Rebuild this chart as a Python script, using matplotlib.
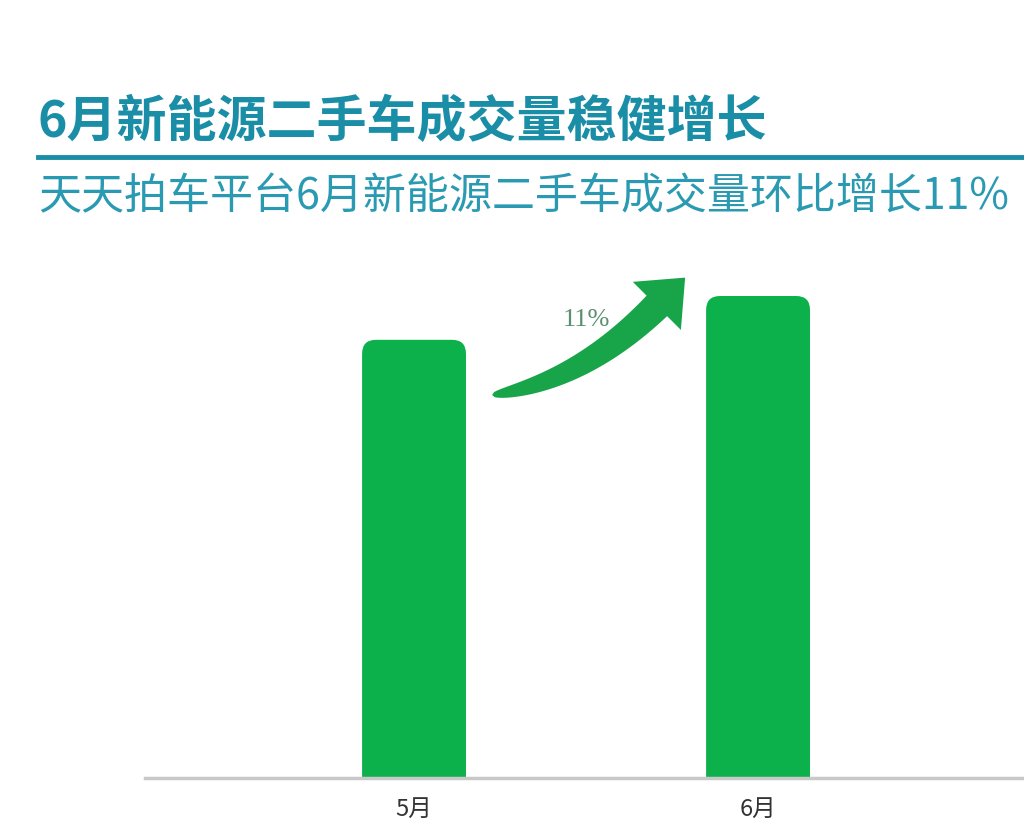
import numpy as np
import matplotlib
matplotlib.use('Agg')
import matplotlib.pyplot as plt
from matplotlib.patches import FancyBboxPatch, Polygon

plt.rcParams['font.family'] = ['Noto Sans CJK SC', 'DejaVu Sans']

# Data
months = ['5月', '6月']
volume = [100, 110]
growth_label = '11%'

title = '6月新能源二手车成交量稳健增长'
subtitle = '天天拍车平台6月新能源二手车成交量环比增长11%'

BAR_GREEN = '#0db14b'
ARROW_GREEN = '#18a54a'
TEAL = '#1a8ea6'

fig = plt.figure(figsize=(10.24, 8.31), dpi=100)
fig.patch.set_facecolor('white')

# Axes area: baseline at y=778px, left edge at 145px
ax = fig.add_axes([145 / 1024, 1 - 778 / 831, 1 - 145 / 1024, 528 / 831])

x = np.arange(len(months))
bars = ax.bar(x, volume, width=0.302, color=BAR_GREEN)

ax.set_xlim(-0.782, 1.773)
ax.set_ylim(0, 120.5)

# replace bars with rounded-top versions
rx = 0.04
ry = 3.2
for b in bars:
    bx, by = b.get_x(), b.get_y()
    bw, bh = b.get_width(), b.get_height()
    b.set_visible(False)
    p = FancyBboxPatch((bx, by - 2 * ry), bw, bh + 2 * ry,
                       boxstyle='round,pad=0,rounding_size=%f' % rx,
                       mutation_aspect=ry / rx,
                       facecolor=BAR_GREEN, edgecolor='none', zorder=2)
    ax.add_patch(p)


def growth_arrow(ax, tail, tip, head_len=40, head_half=34, body_w=29,
                 tail_angle=8.5, color=ARROW_GREEN):
    # tapered curved arrow, built in display space then mapped back to data
    to_disp = ax.transData
    P0 = np.array(to_disp.transform(tail))
    T = np.array(to_disp.transform(tip))
    d = np.array([1.0, 1.0]) / np.sqrt(2)
    P2 = T - head_len * d
    a = np.radians(tail_angle)
    d0 = np.array([np.cos(a), np.sin(a)])
    # control point: intersection of tail tangent and head tangent
    A = np.column_stack([d0, d])
    u, s = np.linalg.solve(A, P2 - P0)
    C = P0 + u * d0
    t = np.linspace(0, 1, 80)[:, None]
    pts = (1 - t) ** 2 * P0 + 2 * (1 - t) * t * C + t ** 2 * P2
    tan = 2 * (1 - t) * (C - P0) + 2 * t * (P2 - C)
    tan /= np.linalg.norm(tan, axis=1)[:, None]
    nrm = np.column_stack([-tan[:, 1], tan[:, 0]])
    w = body_w / 2 * t ** 0.4
    left = pts + nrm * w
    right = pts - nrm * w
    n_end = np.array([-d[1], d[0]])
    head = [P2 + n_end * head_half, T, P2 - n_end * head_half]
    poly = np.vstack([left, head, right[::-1]])
    poly = to_disp.inverted().transform(poly)
    ax.add_patch(Polygon(poly, closed=True, facecolor=color,
                         edgecolor='none', zorder=3))


growth_arrow(ax, (0.227, 87.4), (0.788, 114.2))
ax.text(0.50, 104.5, growth_label, ha='center', va='center', fontsize=19,
        color='#5a9070', family=['Liberation Serif', 'DejaVu Serif'])

ax.set_xticks(x)
ax.set_xticklabels(months, fontsize=17, color='#333333')
ax.tick_params(axis='x', length=0, pad=14)
ax.set_yticks([])
for s in ['top', 'right', 'left']:
    ax.spines[s].set_visible(False)
ax.spines['bottom'].set_color('#c8c8c8')
ax.spines['bottom'].set_linewidth(2.5)

# header
fig.text(38 / 1024, 1 - 122 / 831, title, ha='left', va='center',
         fontsize=36, fontweight='heavy', color=TEAL)
fig.add_artist(plt.Line2D([38 / 1024, 1.0], [1 - 157 / 831, 1 - 157 / 831],
                          color=TEAL, linewidth=3.5, transform=fig.transFigure))
fig.text(38 / 1024, 1 - 197 / 831, subtitle, ha='left', va='center',
         fontsize=31, color='#2a9ab3')

fig.savefig('out.png', dpi=100)
